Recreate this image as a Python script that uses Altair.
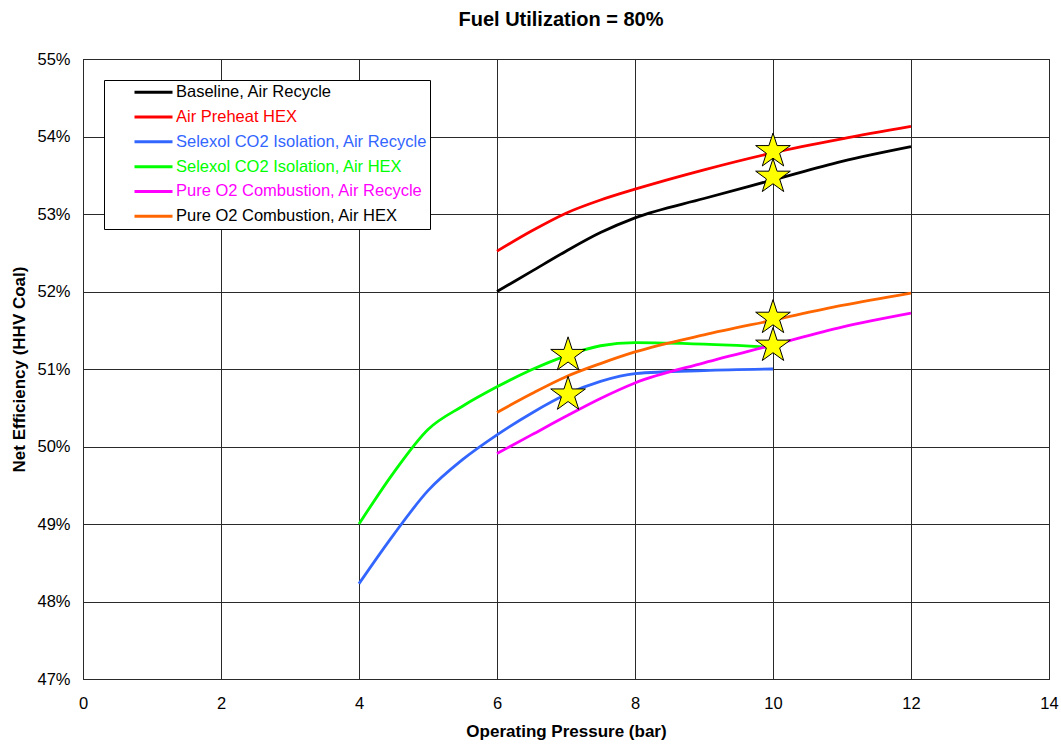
import altair as alt
import pandas as pd

# ---- data ----
series_names = [
    "Baseline, Air Recycle",
    "Air Preheat HEX",
    "Selexol CO2 Isolation, Air Recycle",
    "Selexol CO2 Isolation, Air HEX",
    "Pure O2 Combustion, Air Recycle",
    "Pure O2 Combustion, Air HEX",
]
series_colors = ["#000000", "#FF0000", "#3366FF", "#00FF00", "#FF00FF", "#FF6600"]
label_colors = ["#000000", "#FF0000", "#3366FF", "#00FF00", "#FF00FF", "#000000"]

baseline_x = [6, 6.5, 7, 7.5, 8, 9, 10, 11, 12]
baseline_y = [52.0, 52.26, 52.52, 52.76, 52.95, 53.2, 53.44, 53.68, 53.87]

preheat_x = [6, 6.5, 7, 7.5, 8, 9, 10, 11, 12]
preheat_y = [52.52, 52.78, 53.01, 53.18, 53.32, 53.57, 53.79, 53.97, 54.13]

selexol_ar_x = [4, 4.5, 5, 5.5, 6, 6.5, 7, 7.5, 8, 9, 10]
selexol_ar_y = [48.23, 48.86, 49.43, 49.83, 50.15, 50.43, 50.67, 50.84, 50.94, 50.98, 51.0]

selexol_hex_x = [4, 4.5, 5, 5.5, 6, 6.5, 7, 7.5, 8, 9, 10]
selexol_hex_y = [49.0, 49.66, 50.22, 50.52, 50.77, 50.99, 51.17, 51.3, 51.34, 51.32, 51.28]

o2_ar_x = [6, 6.5, 7, 7.5, 8, 9, 10, 11, 12]
o2_ar_y = [49.91, 50.15, 50.39, 50.62, 50.82, 51.08, 51.31, 51.54, 51.72]

o2_hex_x = [6, 6.5, 7, 7.5, 8, 9, 10, 11, 12]
o2_hex_y = [50.44, 50.68, 50.9, 51.07, 51.22, 51.44, 51.63, 51.82, 51.98]

star_x = [10, 10, 10, 10, 7.03, 7.03]
star_y = [53.81, 53.48, 51.66, 51.30, 51.18, 50.67]

x_ticks = [0, 2, 4, 6, 8, 10, 12, 14]
y_ticks = [47, 48, 49, 50, 51, 52, 53, 54, 55]

# five-pointed star symbol in the unit square [-1, 1]
STAR_PATH = ("M0,-1L0.2245,-0.309L0.9511,-0.309L0.3633,0.118L0.5878,0.809"
             "L0,0.382L-0.5878,0.809L-0.3633,0.118L-0.9511,-0.309L-0.2245,-0.309Z")

# ---- build tables ----
all_x = [baseline_x, preheat_x, selexol_ar_x, selexol_hex_x, o2_ar_x, o2_hex_x]
all_y = [baseline_y, preheat_y, selexol_ar_y, selexol_hex_y, o2_ar_y, o2_hex_y]
rows = []
for name, xs, ys in zip(series_names, all_x, all_y):
    for xv, yv in zip(xs, ys):
        rows.append({"series": name, "pressure": xv, "eff": yv})
lines_df = pd.DataFrame(rows)
stars_df = pd.DataFrame({"pressure": star_x, "eff": star_y})

FONT = "Liberation Sans"
NBSP_PAD = "\u00a0" * 6

x_enc = alt.X(
    "pressure:Q",
    scale=alt.Scale(domain=[0, 14], nice=False),
    axis=alt.Axis(
        values=x_ticks,
        format="d",
        title="Operating Pressure (bar)",
        grid=True,
        ticks=False,
        labelFlush=False,
        labelPadding=16,
        titlePadding=12,
    ),
)
y_enc = alt.Y(
    "eff:Q",
    scale=alt.Scale(domain=[47, 55], nice=False, zero=False),
    axis=alt.Axis(
        values=y_ticks,
        labelExpr="datum.value + '%'",
        title="Net Efficiency (HHV Coal)",
        grid=True,
        ticks=False,
        labelFlush=False,
        labelPadding=13,
        titlePadding=8,
    ),
)

color_expr = " : ".join(
    f"datum.label == '{n}' ? '{c}'" for n, c in zip(series_names, label_colors)
) + " : 'black'"

lines = (
    alt.Chart(lines_df)
    .mark_line(interpolate="monotone", strokeWidth=2.8)
    .encode(
        x=x_enc,
        y=y_enc,
        color=alt.Color(
            "series:N",
            scale=alt.Scale(domain=series_names, range=series_colors),
            sort=series_names,
            legend=alt.Legend(
                title=None,
                orient="none",
                legendX=21,
                legendY=21,
                fillColor="white",
                strokeColor="black",
                padding=2,
                symbolType="stroke",
                symbolSize=1444,
                symbolStrokeWidth=3,
                symbolOffset=27,
                clipHeight=20.5,
                rowPadding=3.8,
                labelOffset=2,
                labelFontSize=16.5,
                labelFont=FONT,
                labelLimit=450,
                labelColor=alt.ExprRef(color_expr),
                labelExpr=f"datum.label + '{NBSP_PAD}'",
            ),
        ),
    )
)

stars = (
    alt.Chart(stars_df)
    .mark_point(shape=STAR_PATH, filled=True, fill="#FFFF00", stroke="black",
                strokeWidth=1, size=1330, opacity=1)
    .encode(x="pressure:Q", y="eff:Q")
)

chart = (
    alt.layer(lines, stars)
    .properties(
        width=966,
        height=620,
        autosize=alt.AutoSizeParams(type="none"),
        padding={"left": 83, "top": 59, "right": 12, "bottom": 65},
        title=alt.Title(
            "Fuel Utilization = 80%",
            font=FONT,
            fontSize=20,
            fontWeight="bold",
            anchor="middle",
            offset=21,
            dx=-5,
        ),
    )
    .configure_view(stroke="black", strokeWidth=1)
    .configure_axis(
        gridColor="#2a2a2a",
        gridWidth=1,
        gridOpacity=1,
        domain=False,
        labelFont=FONT,
        labelFontSize=16.5,
        labelColor="black",
        titleFont=FONT,
        titleFontSize=17,
        titleFontWeight="bold",
        titleColor="black",
    )
)

chart.save("out.html", embed_options={"renderer": "svg", "actions": False})
